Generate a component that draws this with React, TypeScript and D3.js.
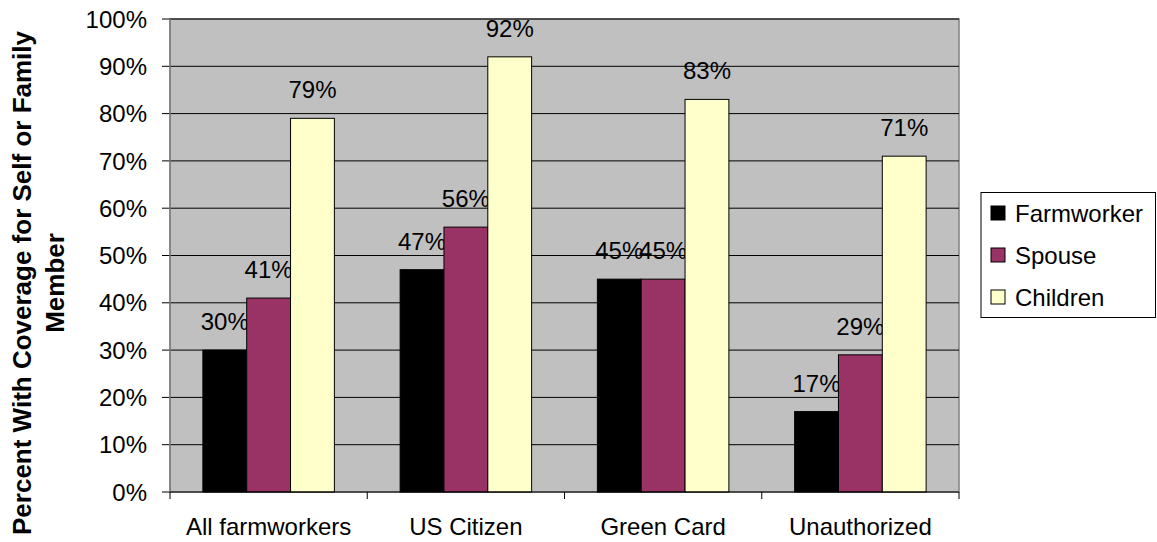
import React from "react";
import * as d3 from "d3";

const categories = ["All farmworkers", "US Citizen", "Green Card", "Unauthorized"];
const seriesNames = ["Farmworker", "Spouse", "Children"];
const farmworker = [30, 47, 45, 17];
const spouse = [41, 56, 45, 29];
const children = [79, 92, 83, 71];
const yTicks = [0, 10, 20, 30, 40, 50, 60, 70, 80, 90, 100];
const colors = ["#000000", "#993366", "#FFFFCC"];

const W = 1157;
const H = 542;
const plot = { left: 170, right: 959, top: 19, bottom: 492 };
const FONT = "'Liberation Sans', Arial, sans-serif";

export default function App() {
  const series = [farmworker, spouse, children];
  const x0 = d3.scaleBand<string>().domain(categories).range([plot.left, plot.right]).paddingInner(0).paddingOuter(0);
  const bw = x0.bandwidth() / 4.5;
  const y = d3.scaleLinear().domain([0, 100]).range([plot.bottom, plot.top]);

  return (
    <svg width={W} height={H} style={{ position: "absolute", left: 0, top: 0, background: "#fff" }} fontFamily={FONT}>
      <rect x={plot.left} y={plot.top} width={plot.right - plot.left} height={plot.bottom - plot.top} fill="#C0C0C0" stroke="#808080" strokeWidth={1.5} />
      {yTicks.map((t) => (
        <g key={t}>
          {t > 0 && <line x1={plot.left} x2={plot.right} y1={y(t)} y2={y(t)} stroke="#000" strokeWidth={1} />}
          <line x1={plot.left - 8} x2={plot.left} y1={y(t)} y2={y(t)} stroke="#000" strokeWidth={1} />
          <text x={147} y={y(t)} dy="0.36em" textAnchor="end" fontSize={24} fill="#000">{t}%</text>
        </g>
      ))}
      {categories.map((c, i) => (
        <g key={c}>
          {series.map((s, j) => {
            const bx = (x0(c) as number) + bw * 0.75 + j * bw;
            return (
              <g key={j}>
                <rect x={bx} y={y(s[i])} width={bw} height={plot.bottom - y(s[i])} fill={colors[j]} stroke="#000" strokeWidth={1} />
                <text x={bx + bw / 2} y={y(s[i]) - 20} textAnchor="middle" fontSize={24} fill="#000">{s[i]}%</text>
              </g>
            );
          })}
          <text x={(x0(c) as number) + x0.bandwidth() / 2} y={535} textAnchor="middle" fontSize={24} fill="#000">{c}</text>
        </g>
      ))}
      <line x1={plot.left} x2={plot.left} y1={plot.top} y2={plot.bottom} stroke="#808080" strokeWidth={1.5} />
      <line x1={plot.left} x2={plot.right} y1={plot.bottom} y2={plot.bottom} stroke="#000" strokeWidth={1} />
      {d3.range(categories.length + 1).map((k) => {
        const xx = plot.left + k * x0.bandwidth();
        return <line key={k} x1={xx} x2={xx} y1={plot.bottom} y2={plot.bottom + 7} stroke="#000" strokeWidth={1} />;
      })}
      <g transform="translate(31,283) rotate(-90)">
        <text x={0} y={0} textAnchor="middle" fontSize={26} fontWeight="bold" fill="#000">Percent With Coverage for Self or Family</text>
        <text x={0} y={33} textAnchor="middle" fontSize={26} fontWeight="bold" fill="#000">Member</text>
      </g>
      <rect x={981} y={192.5} width={174.5} height={125} fill="#fff" stroke="#000" strokeWidth={1} />
      {seriesNames.map((n, j) => (
        <g key={n}>
          <rect x={991} y={206 + j * 42} width={14} height={14} fill={colors[j]} stroke="#000" strokeWidth={1} />
          <text x={1015} y={213 + j * 42} dy="0.36em" fontSize={24} fill="#000">{n}</text>
        </g>
      ))}
    </svg>
  );
}
